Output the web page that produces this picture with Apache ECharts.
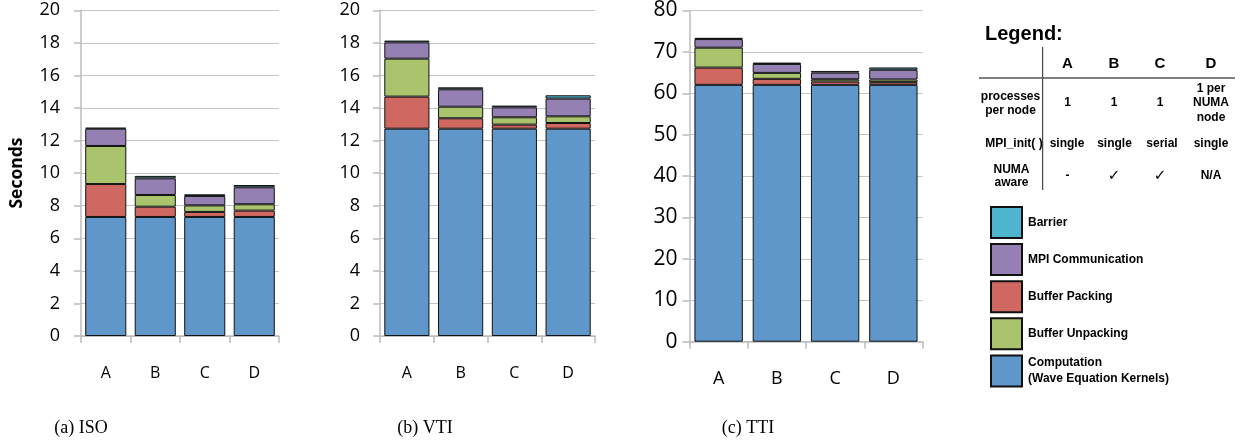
<!DOCTYPE html>
<html>
<head>
<meta charset="utf-8">
<script src="https://cdn.jsdelivr.net/npm/echarts@6/dist/echarts.min.js"></script>
<style>
html,body{margin:0;padding:0;background:#fff;}
#chart{width:1241px;height:442px;}
</style>
</head>
<body>
<div id="chart"></div>
<script>
// ---------- data ----------
const categories = ['A', 'B', 'C', 'D'];
const seriesNames = ['Computation\n(Wave Equation Kernels)', 'Buffer Packing', 'Buffer Unpacking', 'MPI Communication', 'Barrier'];
const legendOrder = ['Barrier', 'MPI Communication', 'Buffer Packing', 'Buffer Unpacking', 'Computation\n(Wave Equation Kernels)'];

// (a) ISO
const isoComputation = [7.31, 7.31, 7.31, 7.31];
const isoPacking     = [2.02, 0.63, 0.31, 0.39];
const isoUnpacking   = [2.34, 0.72, 0.40, 0.39];
const isoMPI         = [1.06, 1.02, 0.58, 1.04];
const isoBarrier     = [0.06, 0.15, 0.10, 0.14];

// (b) VTI
const vtiComputation = [12.73, 12.73, 12.73, 12.73];
const vtiPacking     = [1.97, 0.64, 0.25, 0.35];
const vtiUnpacking   = [2.33, 0.71, 0.45, 0.41];
const vtiMPI         = [1.00, 1.07, 0.61, 1.09];
const vtiBarrier     = [0.11, 0.12, 0.11, 0.20];

// (c) TTI
const ttiComputation = [62.04, 62.04, 62.04, 62.04];
const ttiPacking     = [4.17, 1.45, 0.80, 0.65];
const ttiUnpacking   = [4.81, 1.44, 0.56, 0.65];
const ttiMPI         = [2.08, 2.16, 1.60, 2.35];
const ttiBarrier     = [0.30, 0.32, 0.40, 0.55];

const isoTicks = {min: 0, max: 20, interval: 2};
const vtiTicks = {min: 0, max: 20, interval: 2};
const ttiTicks = {min: 0, max: 80, interval: 10};

const captions = ['(a) ISO', '(b) VTI', '(c) TTI'];
const yAxisTitle = 'Seconds';

// legend table
const tableTitle = 'Legend:';
const tableHeaders = ['A', 'B', 'C', 'D'];
const rowLabels = ['processes\nper node', 'MPI_init( )', 'NUMA\naware'];
const rowProcesses = ['1', '1', '1', '1 per\nNUMA\nnode'];
const rowMpiInit = ['single', 'single', 'serial', 'single'];
const rowNuma = ['-', '\u2713', '\u2713', 'N/A'];

// ---------- styling ----------
const colors = {
  'Computation\n(Wave Equation Kernels)': '#6097ca',
  'Buffer Packing': '#cf6861',
  'Buffer Unpacking': '#a9c46d',
  'MPI Communication': '#9580b4',
  'Barrier': '#4fb5cf'
};

const panels = [
  {data: [isoComputation, isoPacking, isoUnpacking, isoMPI, isoBarrier], ticks: isoTicks,
   grid: {left: 81, top: 10.3, width: 198, height: 325.7}, gap: '17%', yfs: 18, xfs: 16, ymargin: 21, xmargin: 29},
  {data: [vtiComputation, vtiPacking, vtiUnpacking, vtiMPI, vtiBarrier], ticks: vtiTicks,
   grid: {left: 380, top: 10.3, width: 215, height: 325.7}, gap: '16%', yfs: 18, xfs: 16, ymargin: 20, xmargin: 29},
  {data: [ttiComputation, ttiPacking, ttiUnpacking, ttiMPI, ttiBarrier], ticks: ttiTicks,
   grid: {left: 689.5, top: 9, width: 233, height: 332.7}, gap: '17%', yfs: 21, xfs: 18, ymargin: 12, xmargin: 28}
];

const axisGray = '#bcbcbc';
const grids = [], xAxes = [], yAxes = [], series = [];
panels.forEach((p, i) => {
  grids.push(Object.assign({containLabel: false}, p.grid));
  xAxes.push({
    type: 'category', gridIndex: i, data: categories,
    axisLine: {lineStyle: {color: axisGray, width: 1.5}},
    axisTick: {show: true, length: 7, lineStyle: {color: axisGray, width: 1.5}},
    axisLabel: {color: '#000', fontFamily: 'Open Sans', fontSize: p.xfs, margin: p.xmargin}
  });
  yAxes.push({
    type: 'value', gridIndex: i, min: p.ticks.min, max: p.ticks.max, interval: p.ticks.interval,
    axisLine: {show: true, lineStyle: {color: axisGray, width: 1.5}},
    axisTick: {show: true, length: 7, lineStyle: {color: axisGray, width: 1.5}},
    splitLine: {show: true, lineStyle: {color: '#c4c4c4', width: 1.2}},
    axisLabel: {color: '#000', fontFamily: 'Open Sans', fontSize: p.yfs, margin: p.ymargin}
  });
  seriesNames.forEach((name, k) => {
    series.push({
      name: name, type: 'bar', stack: 'p' + i, xAxisIndex: i, yAxisIndex: i,
      data: p.data[k], barCategoryGap: p.gap,
      itemStyle: {color: colors[name], borderColor: '#111', borderWidth: 1},
      emphasis: {disabled: true}
    });
  });
});

// ---------- graphics (table, captions, axis title) ----------
const bold = 'Liberation Sans';
const g = [];
function txt(text, x, y, size, opts) {
  opts = opts || {};
  g.push({
    type: 'text', x: x, y: y, rotation: opts.rotation || 0,
    style: {
      text: text, fill: '#000', fontSize: size,
      fontFamily: opts.family || bold, fontWeight: opts.weight || 'bold',
      textAlign: opts.align || 'center', textVerticalAlign: 'middle',
      lineHeight: opts.lineHeight || size * 1.2
    }
  });
}
txt(yAxisTitle, 17, 173, 17.5, {family: 'Open Sans', rotation: Math.PI / 2});
const capX = [81, 425, 748];
captions.forEach((c, i) => txt(c, capX[i], 428, 18, {family: 'Liberation Serif', weight: 'normal'}));

txt(tableTitle, 985, 34, 20, {align: 'left'});
const colX = [1067.5, 1114, 1160, 1211];
tableHeaders.forEach((h, i) => txt(h, colX[i], 63.5, 15));
txt(rowLabels[0], 1010.5, 103.5, 12, {lineHeight: 13.5});
txt(rowLabels[1], 1014, 143.5, 12);
txt(rowLabels[2], 1011.5, 176.5, 12, {lineHeight: 13});
rowProcesses.forEach((v, i) => txt(v, colX[i], 103, 12, {lineHeight: 14.5}));
const mpiX = [1067, 1114.5, 1162, 1211];
rowMpiInit.forEach((v, i) => txt(v, mpiX[i], 143.5, 12));
rowNuma.forEach((v, i) => txt(v, colX[i], 176, (v === '\u2713') ? 15 : 12,
  {family: (v === '\u2713') ? 'DejaVu Sans' : bold}));

g.push({type: 'line', shape: {x1: 1042.7, y1: 47, x2: 1042.7, y2: 190}, style: {stroke: '#222', lineWidth: 1}});
g.push({type: 'line', shape: {x1: 979, y1: 78, x2: 1235, y2: 78}, style: {stroke: '#555', lineWidth: 1.5}});

const option = {
  animation: false,
  backgroundColor: '#fff',
  grid: grids, xAxis: xAxes, yAxis: yAxes, series: series,
  legend: {
    data: legendOrder, orient: 'vertical', left: 990, top: 206, padding: 0,
    itemWidth: 31, itemHeight: 31, itemGap: 4.1, icon: 'rect', selectedMode: false,
    textStyle: {fontFamily: bold, fontWeight: 'bold', fontSize: 12, color: '#000', lineHeight: 15.5, padding: [0, 0, 0, 1]}
  },
  graphic: g
};
const chart = echarts.init(document.getElementById('chart'), null, {renderer: 'canvas'});
chart.setOption(option);
</script>
</body>
</html>
